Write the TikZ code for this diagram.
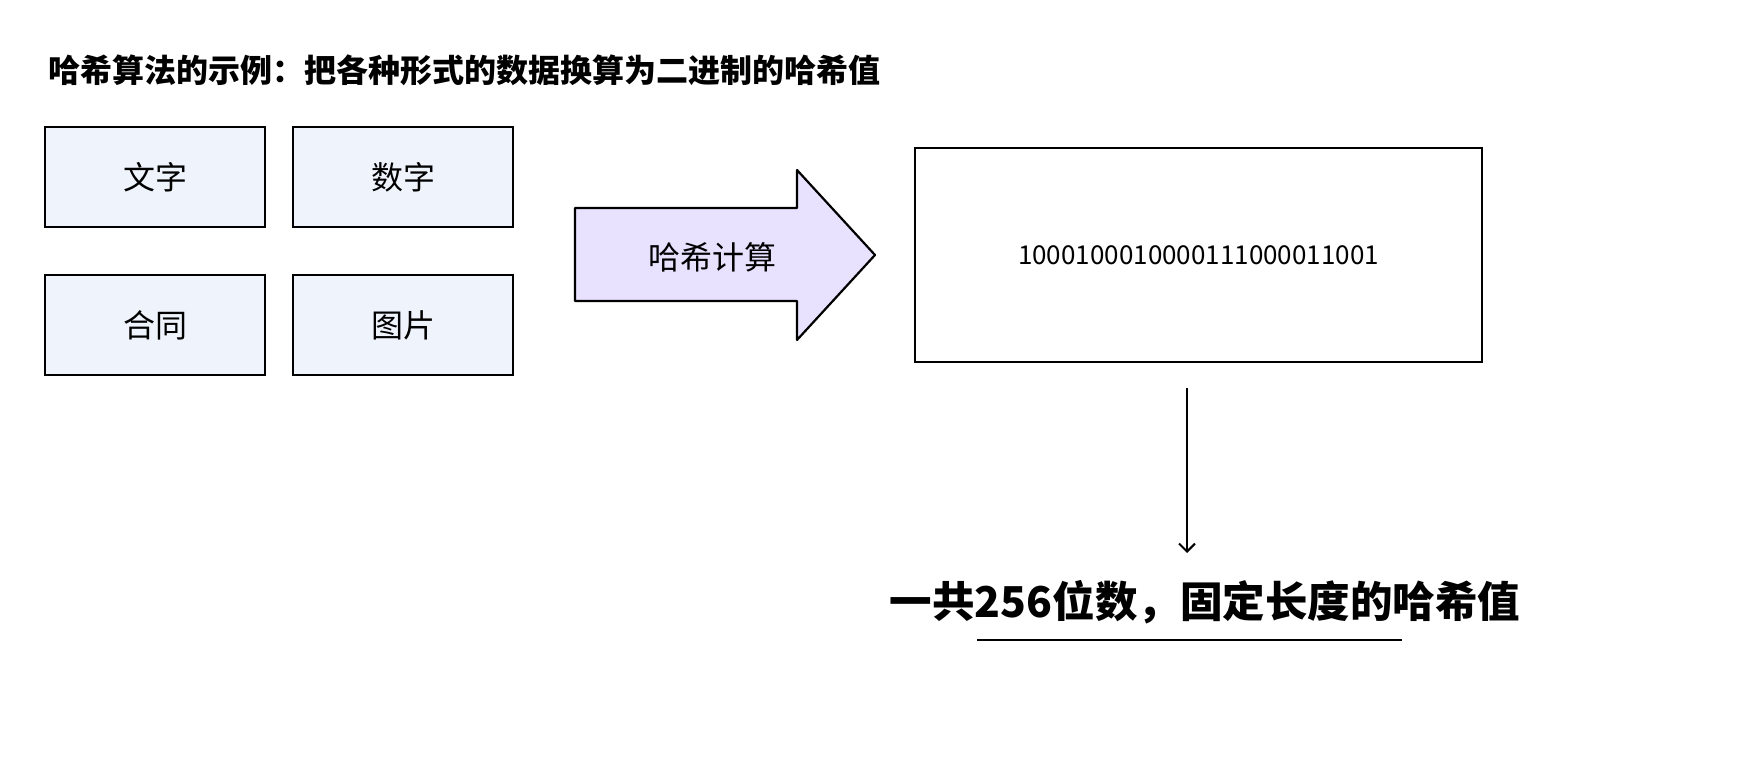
\documentclass[tikz,border=0pt]{standalone}
\usepackage{fontspec}
\setmainfont{Noto Sans CJK SC}
\usetikzlibrary{arrows.meta, positioning}
\definecolor{kindfill}{HTML}{EFF4FC}
\definecolor{calcfill}{HTML}{E9E2FF}

\begin{document}
\begin{tikzpicture}[x=1pt, y=-1pt]

  % Define styles
  \tikzset{
    kind/.style = {rectangle, draw, line width=2.2pt, fill=kindfill, minimum width=220pt, minimum height=100pt, font=\fontsize{32}{34}\selectfont},
    outbox/.style = {rectangle, draw, line width=2.2pt, fill=white, minimum width=567pt, minimum height=214pt, font=\fontsize{26}{28}\selectfont}
  }

  \useasboundingbox (0,0) rectangle (1742,762);

  % Title
  \node[anchor=west, font=\bfseries\fontsize{32}{34}\selectfont] (title) at (45,70) {哈希算法的示例：把各种形式的数据换算为二进制的哈希值};

  % Inputs
  \node[kind] (text) at (155,177) {文字};
  \node[kind] (num) at (403,177) {数字};
  \node[kind] (deal) at (155,325) {合同};
  \node[kind] (pic) at (403,325) {图片};

  % Hashing arrow
  \draw[line width=2.2pt, fill=calcfill, line join=round]
    (575,208) -- (797,208) -- (797,170) -- (875,255) -- (797,340) -- (797,301) -- (575,301) -- cycle;
  \node[font=\fontsize{32}{34}\selectfont] (calc) at (712,257) {哈希计算};

  % Result
  \node[outbox] (hash) at (1198.5,255) {1000100010000111000011001};

  \node[font=\bfseries\fontsize{42.5}{46}\selectfont] (total) at (1205,602) {一共256位数，固定长度的哈希值};
  \coordinate (start) at (1187,388);
  \coordinate (stop) at (1187,553);
  \draw[-{Straight Barb[length=8pt, width=16pt]}, line width=2pt] (start) -- (stop);

  % Underline
  \coordinate (ul1) at (977,640);
  \coordinate (ul2) at (1402,640);
  \draw[line width=2.5pt] (ul1) -- (ul2);

\end{tikzpicture}
\end{document}
